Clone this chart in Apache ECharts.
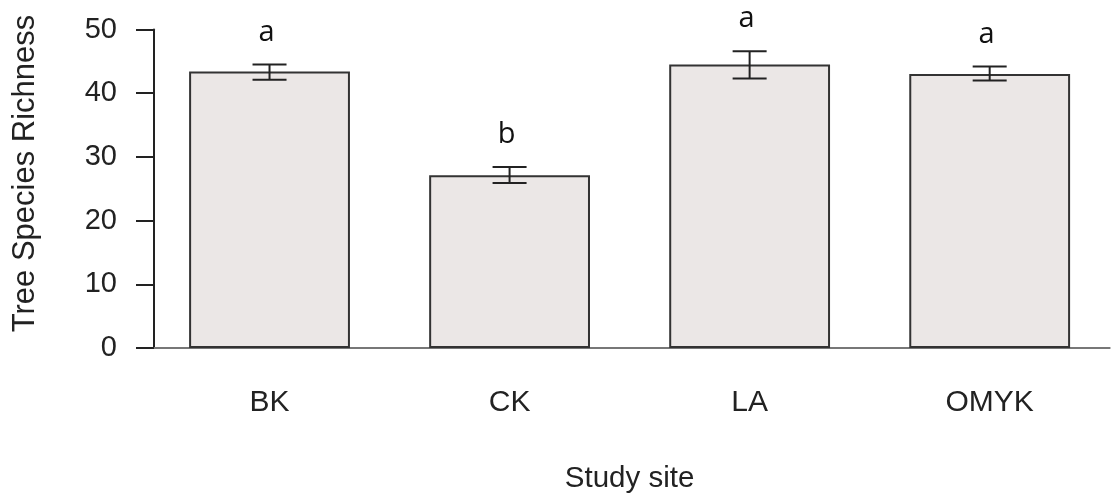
<!DOCTYPE html>
<html>
<head>
<meta charset="utf-8">
<script src="https://cdn.jsdelivr.net/npm/echarts@6/dist/echarts.min.js"></script>
<style>html,body{margin:0;padding:0;background:#fff}#c{width:1113px;height:497px}</style>
</head>
<body>
<div id="c"></div>
<script>
var categories = ['BK', 'CK', 'LA', 'OMYK'];
var means = [43.4, 27.1, 44.5, 43.0];
var errLow = [42.1, 25.9, 42.3, 42.0];
var errHigh = [44.5, 28.4, 46.6, 44.2];
var letters = ['a', 'b', 'a', 'a'];
var yTicks = [0, 10, 20, 30, 40, 50];

var chart = echarts.init(document.getElementById('c'), null, {renderer: 'canvas'});
var FONT = '"Liberation Sans", Arial, sans-serif';

chart.setOption({
  animation: false,
  backgroundColor: '#ffffff',
  grid: {left: 149.5, right: 3.3, top: 29.5, bottom: 149, containLabel: false, outerBoundsMode: 'none'},
  graphic: [
    {type: 'text', rotation: Math.PI / 2, z: 10, x: 25, y: 173.5,
      style: {text: 'Tree Species Richness', font: '31px "Liberation Sans", Arial, sans-serif',
        fill: '#222', align: 'center', verticalAlign: 'middle', x: 0, y: 0}}
  ],
  xAxis: {
    type: 'category',
    data: categories,
    axisLine: {show: true, lineStyle: {color: '#777', width: 2}},
    axisTick: {show: false},
    axisLabel: {fontFamily: FONT, fontSize: 30, color: '#222', margin: 40},
    name: 'Study site',
    nameLocation: 'middle',
    nameGap: 116,
    nameTextStyle: {fontFamily: FONT, fontSize: 29.5, color: '#222'}
  },
  yAxis: {
    type: 'value',
    min: yTicks[0],
    max: yTicks[yTicks.length - 1],
    interval: 10,
    offset: -4.5,
    splitLine: {show: false},
    axisLine: {show: true, lineStyle: {color: '#222', width: 2}},
    axisTick: {show: true, length: 18, lineStyle: {color: '#222', width: 2}},
    axisLabel: {fontFamily: FONT, fontSize: 29, color: '#222', margin: 37}
  },
  series: [
    {
      type: 'bar',
      data: means,
      barWidth: '67%',
      itemStyle: {color: '#ebe7e6', borderColor: '#333', borderWidth: 2},
      z: 2
    },
    {
      type: 'custom',
      data: categories.map(function (c, i) { return [i, errLow[i], errHigh[i]]; }),
      renderItem: function (params, api) {
        var i = api.value(0);
        var lo = api.coord([i, api.value(1)]);
        var hi = api.coord([i, api.value(2)]);
        var half = 17;
        var st = {stroke: '#222', lineWidth: 2};
        return {
          type: 'group',
          children: [
            {type: 'line', shape: {x1: hi[0], y1: hi[1], x2: lo[0], y2: lo[1]}, style: st},
            {type: 'line', shape: {x1: hi[0] - half, y1: hi[1], x2: hi[0] + half, y2: hi[1]}, style: st},
            {type: 'line', shape: {x1: lo[0] - half, y1: lo[1], x2: lo[0] + half, y2: lo[1]}, style: st},
            {type: 'text', style: {text: letters[params.dataIndex], x: hi[0] - 3, y: hi[1] - 32,
              align: 'center', verticalAlign: 'middle', fill: '#111',
              font: '29px "Open Sans", sans-serif'}}
          ]
        };
      },
      z: 3
    }
  ]
});
</script>
</body>
</html>
